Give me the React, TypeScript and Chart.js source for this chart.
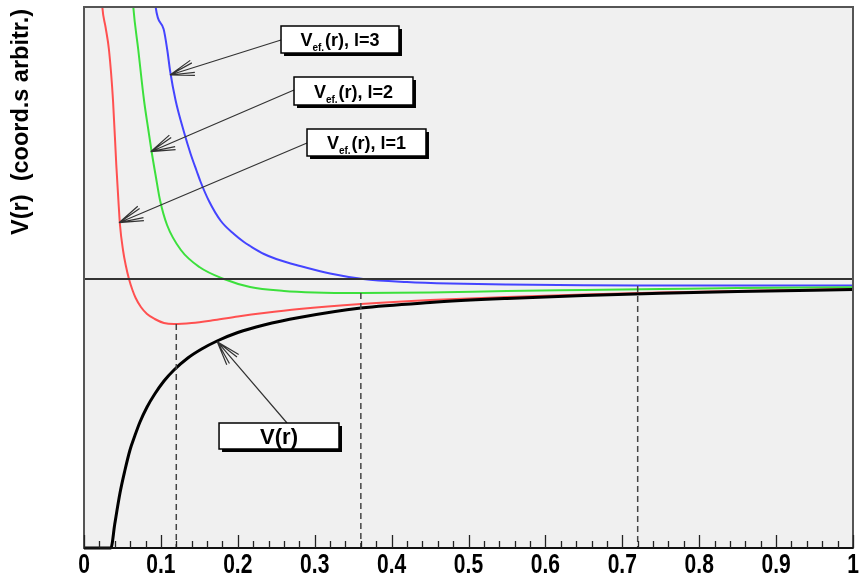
import { useEffect, useRef } from 'react';
import { Chart, registerables } from 'chart.js';

Chart.register(...registerables);

// ---- data (r in arbitrary units, V in arbitrary units) ----
const X_TICK_LABELS = ['0', '0.1', '0.2', '0.3', '0.4', '0.5', '0.6', '0.7', '0.8', '0.9', '1'];
const Y_MIN = -2.69;
const Y_MAX = 2.72;

// V(r)
const R_V = [0, 0.035, 0.04, 0.0468, 0.053, 0.0598, 0.066, 0.0728, 0.082, 0.092, 0.104, 0.117, 0.135, 0.153, 0.173, 0.2, 0.234, 0.28, 0.36, 0.45, 0.55, 0.65, 0.75, 0.85, 1.0];
const V_V = [-2.69, -2.69, -2.45, -2.14, -1.92, -1.71, -1.57, -1.43, -1.28, -1.15, -1.02, -0.91, -0.79, -0.7, -0.62, -0.535, -0.46, -0.385, -0.29, -0.235, -0.195, -0.165, -0.142, -0.125, -0.105];

// V_ef(r), l=1
const R_L1 = [0.021, 0.0238, 0.028, 0.0325, 0.0377, 0.042, 0.0447, 0.0468, 0.0507, 0.0545, 0.0585, 0.063, 0.0672, 0.074, 0.082, 0.092, 0.104, 0.117, 0.14, 0.17, 0.2, 0.234, 0.28, 0.36, 0.45, 0.55, 0.65, 0.75, 0.85, 1.0];
const V_L1 = [3.1, 2.72, 2.52, 2.29, 1.79, 1.14, 0.79, 0.54, 0.29, 0.13, 0.0, -0.11, -0.19, -0.28, -0.35, -0.4, -0.44, -0.45, -0.44, -0.41, -0.375, -0.34, -0.3, -0.25, -0.21, -0.18, -0.155, -0.135, -0.12, -0.1];

// V_ef(r), l=2
const R_L2 = [0.061, 0.0641, 0.0706, 0.078, 0.0835, 0.088, 0.0935, 0.0988, 0.108, 0.126, 0.15, 0.182, 0.216, 0.26, 0.3, 0.36, 0.45, 0.55, 0.65, 0.75, 0.85, 1.0];
const V_L2 = [3.1, 2.72, 2.29, 1.79, 1.5, 1.27, 1.02, 0.79, 0.54, 0.29, 0.12, 0.0, -0.08, -0.12, -0.135, -0.14, -0.135, -0.12, -0.11, -0.1, -0.09, -0.082];

// V_ef(r), l=3
const R_L3 = [0.09, 0.0932, 0.1035, 0.1083, 0.112, 0.119, 0.13, 0.1387, 0.1465, 0.1517, 0.1625, 0.178, 0.195, 0.208, 0.216, 0.234, 0.25, 0.281, 0.32, 0.363, 0.42, 0.476, 0.55, 0.65, 0.72, 0.85, 1.0];
const V_L3 = [3.1, 2.72, 2.5, 2.29, 2.08, 1.79, 1.47, 1.25, 1.08, 0.97, 0.78, 0.58, 0.45, 0.37, 0.33, 0.25, 0.2, 0.13, 0.055, 0.0, -0.03, -0.045, -0.055, -0.062, -0.064, -0.066, -0.066];

// minima markers (dashed verticals)
const R_MINIMA = [0.12, 0.36, 0.72];
const V_MINIMA = [-0.45, -0.14, -0.07];

// annotations: boxes and arrows, in data units
const LABEL_SUB = ['3', '2', '1'];
const BOX_L = [0.2562, 0.2731, 0.29];
const BOX_R = [0.4096, 0.4278, 0.4447];
const BOX_T = [2.53, 2.02, 1.5];
const BOX_B = [2.26, 1.74, 1.23];
const ARROW_FROM_R = [0.2562, 0.2731, 0.29];
const ARROW_FROM_V = [2.39, 1.89, 1.36];
const ARROW_TIP_R = [0.1118, 0.0867, 0.0455];
const ARROW_TIP_V = [2.04, 1.273, 0.563];
const VR_BOX = [0.1756, -1.44, 0.3316, -1.7];
const VR_ARROW = [0.264, -1.44, 0.1733, -0.627];

const zip = (r: number[], v: number[]) => r.map((x, i) => ({ x, y: v[i] }));

const SANS = "'Liberation Sans', Arial, Helvetica, sans-serif";

function drawArrow(ctx: CanvasRenderingContext2D, x0: number, y0: number, x1: number, y1: number) {
  ctx.save();
  ctx.strokeStyle = '#333';
  ctx.lineWidth = 1.2;
  ctx.beginPath();
  ctx.moveTo(x0, y0);
  ctx.lineTo(x1, y1);
  const ang = Math.atan2(y0 - y1, x0 - x1);
  const L = 25;
  for (const d of [-0.32, -0.2, 0.2, 0.32]) {
    ctx.moveTo(x1, y1);
    ctx.lineTo(x1 + L * Math.cos(ang + d), y1 + L * Math.sin(ang + d));
  }
  ctx.stroke();
  ctx.restore();
}

function drawBox(ctx: CanvasRenderingContext2D, x0: number, y0: number, x1: number, y1: number) {
  ctx.save();
  ctx.fillStyle = '#000';
  ctx.fillRect(x0 + 3, y0 + 3, x1 - x0, y1 - y0);
  ctx.fillStyle = '#fff';
  ctx.fillRect(x0, y0, x1 - x0, y1 - y0);
  ctx.strokeStyle = '#000';
  ctx.lineWidth = 1.5;
  ctx.strokeRect(x0, y0, x1 - x0, y1 - y0);
  ctx.restore();
}

const decor = {
  id: 'decor',
  beforeDraw(chart: any) {
    const { ctx, chartArea: a } = chart;
    ctx.save();
    ctx.fillStyle = '#fff';
    ctx.fillRect(0, 0, chart.width, chart.height);
    ctx.fillStyle = '#f0f0f0';
    ctx.fillRect(a.left, a.top, a.right - a.left, a.bottom - a.top);
    ctx.restore();
  },
  afterDatasetsDraw(chart: any) {
    const { ctx, chartArea: a } = chart;
    const xs = chart.scales.x;
    const ys = chart.scales.y;
    const px = (v: number) => xs.getPixelForValue(v);
    const py = (v: number) => ys.getPixelForValue(v);

    ctx.save();
    // frame
    ctx.strokeStyle = '#555';
    ctx.lineWidth = 2;
    ctx.strokeRect(a.left, a.top, a.right - a.left, a.bottom - a.top);
    ctx.strokeStyle = '#111';
    ctx.beginPath();
    ctx.moveTo(a.left, a.bottom);
    ctx.lineTo(a.right, a.bottom);
    ctx.stroke();

    // ticks inside
    ctx.strokeStyle = '#222';
    ctx.lineWidth = 1.3;
    ctx.beginPath();
    for (let i = 0; i <= 50; i++) {
      const x = Math.round(px(i * 0.02)) + 0.5;
      const len = i % 5 === 0 ? 13 : 7;
      ctx.moveTo(x, a.bottom);
      ctx.lineTo(x, a.bottom - len);
    }
    ctx.stroke();

    // tick labels (condensed bold), from the scale's own ticks
    ctx.fillStyle = '#000';
    ctx.font = `bold 27px ${SANS}`;
    ctx.textAlign = 'center';
    ctx.textBaseline = 'alphabetic';
    for (const t of xs.ticks) {
      const lbl = X_TICK_LABELS[Math.round(t.value * 10)];
      if (lbl === undefined) continue;
      const x = px(t.value);
      ctx.save();
      ctx.translate(x, a.bottom + 25);
      ctx.scale(0.78, 1);
      ctx.fillText(lbl, 0, 0);
      ctx.restore();
    }

    // arrows
    for (let i = 0; i < 3; i++) {
      drawArrow(ctx, px(ARROW_FROM_R[i]), py(ARROW_FROM_V[i]), px(ARROW_TIP_R[i]), py(ARROW_TIP_V[i]));
    }
    drawArrow(ctx, px(VR_ARROW[0]), py(VR_ARROW[1]), px(VR_ARROW[2]), py(VR_ARROW[3]));

    // boxes + labels
    for (let i = 0; i < 3; i++) {
      const x0 = px(BOX_L[i]), x1 = px(BOX_R[i]), y0 = py(BOX_T[i]), y1 = py(BOX_B[i]);
      drawBox(ctx, x0, y0, x1, y1);
      const big = `bold 18px ${SANS}`;
      const small = `bold 10px ${SANS}`;
      const rest = `(r), l=${LABEL_SUB[i]}`;
      ctx.font = big;
      const wV = ctx.measureText('V').width;
      const wR = ctx.measureText(rest).width;
      ctx.font = small;
      const wS = ctx.measureText('ef.').width;
      const total = wV + wS + 1 + wR;
      let x = (x0 + x1) / 2 - total / 2;
      const base = (y0 + y1) / 2 + 6.5;
      ctx.fillStyle = '#000';
      ctx.textBaseline = 'alphabetic';
      ctx.textAlign = 'left';
      ctx.font = big;
      ctx.fillText('V', x, base);
      x += wV;
      ctx.font = small;
      ctx.fillText('ef.', x, base + 5);
      x += wS + 1;
      ctx.font = big;
      ctx.fillText(rest, x, base);
    }
    {
      const x0 = px(VR_BOX[0]), y0 = py(VR_BOX[1]), x1 = px(VR_BOX[2]), y1 = py(VR_BOX[3]);
      drawBox(ctx, x0, y0, x1, y1);
      ctx.font = `bold 22px ${SANS}`;
      ctx.fillStyle = '#000';
      ctx.textAlign = 'center';
      ctx.textBaseline = 'alphabetic';
      ctx.fillText('V(r)', (x0 + x1) / 2, (y0 + y1) / 2 + 8);
    }

    // y title
    ctx.translate(22, 9);
    ctx.rotate(-Math.PI / 2);
    ctx.font = `bold 23.5px ${SANS}`;
    ctx.fillStyle = '#000';
    ctx.textAlign = 'right';
    ctx.textBaseline = 'middle';
    ctx.fillText('V(r)  (coord.s arbitr.)', 0, 0);
    ctx.restore();
  },
};

export default function App() {
  const ref = useRef<HTMLCanvasElement>(null);
  useEffect(() => {
    if (!ref.current) return;
    const line = (data: any[], color: string, width: number, extra: any = {}) => ({
      data,
      showLine: true,
      borderColor: color,
      borderWidth: width,
      pointRadius: 0,
      cubicInterpolationMode: 'monotone',
      clip: 0,
      ...extra,
    });
    const datasets: any[] = [
      line([{ x: 0, y: 0 }, { x: 1, y: 0 }], '#333', 1.8, { cubicInterpolationMode: 'default' }),
      ...R_MINIMA.map((r, i) =>
        line([{ x: r, y: V_MINIMA[i] }, { x: r, y: Y_MIN }], '#444', 1.5, { borderDash: [6, 4], cubicInterpolationMode: 'default' })
      ),
      line(zip(R_V, V_V), '#000', 3, { clip: 3 }),
      line(zip(R_L1, V_L1), '#ff5050', 2),
      line(zip(R_L2, V_L2), '#3ce03c', 2),
      line(zip(R_L3, V_L3), '#4444ff', 2),
    ];
    const chart = new Chart(ref.current, {
      type: 'scatter',
      data: { datasets },
      plugins: [decor],
      options: {
        animation: false,
        responsive: false,
        events: [],
        layout: { padding: { left: 84, right: 9, top: 7, bottom: 0 } },
        plugins: { legend: { display: false }, tooltip: { enabled: false } },
        scales: {
          x: {
            type: 'linear',
            min: 0,
            max: 1,
            afterFit: (s: any) => {
              s.height = 28;
            },
            border: { display: false },
            grid: { display: false, drawTicks: false },
            ticks: {
              stepSize: 0.1,
              display: false,
              autoSkip: false,
            },
          },
          y: { type: 'linear', min: Y_MIN, max: Y_MAX, display: false },
        },
      } as any,
    });
    return () => chart.destroy();
  }, []);
  return (
    <div style={{ position: 'absolute', left: 0, top: 0, width: 862, height: 576 }}>
      <canvas ref={ref} width={862} height={576} />
    </div>
  );
}
